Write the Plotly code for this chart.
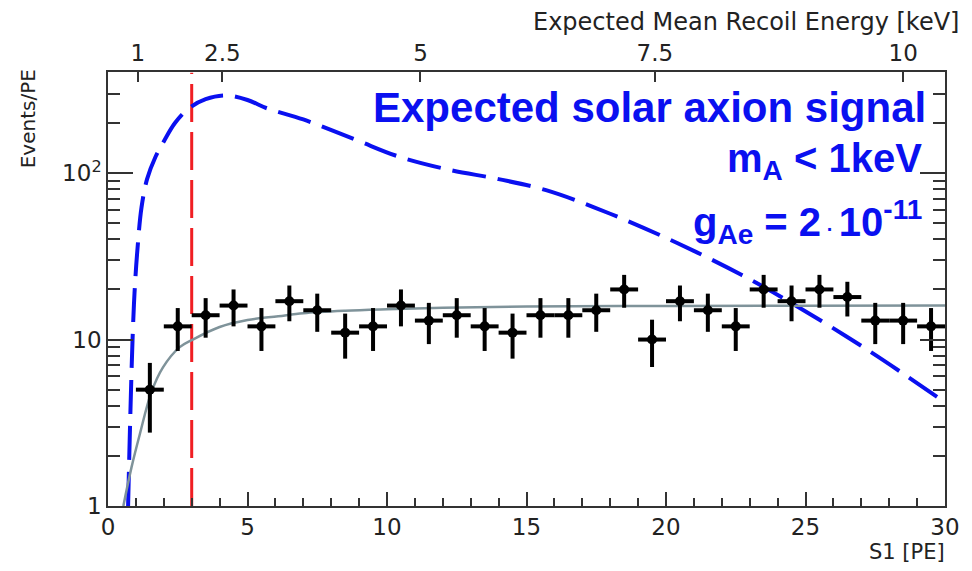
import plotly.graph_objects as go
import math

# ---------------- data ----------------
bin_centers = [1.5, 2.5, 3.5, 4.5, 5.5, 6.5, 7.5, 8.5, 9.5, 10.5, 11.5, 12.5, 13.5, 14.5,
               15.5, 16.5, 17.5, 18.5, 19.5, 20.5, 21.5, 22.5, 23.5, 24.5, 25.5, 26.5,
               27.5, 28.5, 29.5]
counts = [5, 12, 14, 16, 12, 17, 15, 11, 12, 16, 13, 14, 12, 11,
          14, 14, 15, 20, 10, 17, 15, 12, 20, 17, 20, 18, 13, 13, 12]
count_err = [2.24, 3.46, 3.74, 4.0, 3.46, 4.12, 3.87, 3.32, 3.46, 4.0, 3.61, 3.74, 3.46, 3.32,
             3.74, 3.74, 3.87, 4.47, 3.16, 4.12, 3.87, 3.46, 4.47, 4.12, 4.47, 4.24, 3.61, 3.61, 3.46]
bin_half_width = [0.5] * len(bin_centers)

# background fit curve (grey)
bkg_s1 = [0.55, 0.84, 1.14, 1.55, 1.97, 2.57, 3.04, 4.0, 5.0, 6.1, 7.0, 8.5, 10.0,
          12.0, 15.0, 20.0, 25.0, 30.0]
bkg_y = [1.0, 1.7, 2.7, 4.8, 6.8, 9.0, 10.0, 11.9, 13.1, 13.8, 14.4, 14.9, 15.2,
         15.5, 15.8, 15.9, 15.95, 16.0]

# expected solar axion signal (blue dashed)
sig_s1 = [0.72, 0.8, 0.88, 0.95, 1.05, 1.2, 1.4, 1.7, 2.0, 2.4, 2.9, 3.5, 4.2, 5.0,
          5.7, 7.0, 8.9, 10.4, 12.2, 14.0, 15.7, 18.0, 20.4, 22.7, 24.6, 27.3, 30.0]
sig_y = [1.0, 3.5, 10, 19, 34, 62, 92, 125, 155, 200, 245, 278, 293, 275,
         245, 210, 158, 126, 105, 92, 79, 57, 38, 24.5, 16.2, 8.5, 4.2]

# analysis threshold (red dashed)
threshold_s1 = 3.0

# top axis: expected mean recoil energy, tick labels and S1 positions
energy_labels = ["1", "2.5", "5", "7.5", "10"]
energy_s1_pos = [1.07, 4.1, 11.2, 19.6, 28.5]

# axis ranges / ticks
x_range = [0, 30]
y_min, y_max = 1, 405
y_tickvals = [1, 10, 100]
y_ticktext = ["1", "10", "10<sup>2</sup>"]
y_minor = [m * d for d in (1, 10, 100) for m in range(2, 10) if m * d < y_max]

# ---------------- figure ----------------
BLUE = "#0a10f0"
RED = "#f01e23"
GREY = "#7f939a"
TXT = "#222222"
AX = "#333333"
tickfont = dict(family="DejaVu Sans", size=23, color=TXT)

fig = go.Figure()

fig.add_trace(go.Scatter(
    x=[threshold_s1, threshold_s1], y=[y_min, y_max * 0.99], mode="lines",
    line=dict(color=RED, width=3, dash="38px,10px"), hoverinfo="skip"))

fig.add_trace(go.Scatter(
    x=sig_s1, y=sig_y, mode="lines", line=dict(color=BLUE, width=4, dash="34px,12px", shape="spline"),
    hoverinfo="skip"))

fig.add_trace(go.Scatter(
    x=bkg_s1, y=bkg_y, mode="lines", line=dict(color=GREY, width=2.5, shape="spline"),
    hoverinfo="skip"))

fig.add_trace(go.Scatter(
    x=bin_centers, y=counts, mode="markers",
    marker=dict(color="black", size=10, symbol="circle"),
    error_y=dict(type="data", array=count_err, color="black", thickness=4, width=0),
    error_x=dict(type="data", array=bin_half_width, color="black", thickness=4, width=0)))

# invisible trace to carry the top axis
fig.add_trace(go.Scatter(x=x_range, y=[y_min, y_min], mode="markers",
                         marker=dict(opacity=0), xaxis="x2", hoverinfo="skip"))

fig.update_layout(
    width=972, height=571,
    margin=dict(l=108, r=24, t=72, b=65),
    plot_bgcolor="white", paper_bgcolor="white",
    showlegend=False,
    xaxis=dict(range=x_range, showline=True, linecolor=AX, linewidth=1.5, mirror=False,
               showgrid=False, zeroline=False, ticks="inside", ticklen=14, tickwidth=1.5,
               tickcolor=AX, tickvals=[0, 5, 10, 15, 20, 25, 30], tickfont=tickfont,
               minor=dict(ticks="inside", ticklen=8, tickwidth=1.5, tickcolor=AX, dtick=1, showgrid=False)),
    xaxis2=dict(range=x_range, overlaying="x", side="top", showline=True, linecolor=AX,
                linewidth=1.5, showgrid=False, zeroline=False, ticks="inside", ticklen=10,
                tickwidth=1.5, tickcolor=AX, tickmode="array", tickvals=energy_s1_pos,
                ticktext=energy_labels, tickfont=tickfont),
    yaxis=dict(type="log", range=[math.log10(y_min), math.log10(y_max)], showline=True,
               linecolor=AX, linewidth=1.5, mirror="ticks", showgrid=False, zeroline=False,
               ticks="inside", ticklen=25, tickwidth=1.5, tickcolor=AX, tickmode="array",
               tickvals=y_tickvals, ticktext=y_ticktext, tickfont=tickfont,
               minor=dict(ticks="inside", ticklen=12, tickwidth=1.5, tickcolor=AX,
                          tickmode="array", tickvals=y_minor, showgrid=False)),
)

def px(xp):
    return (xp - 108) / 840.0

def py(yp):
    return (506 - yp) / 434.0

annos = [
    dict(text="<b>Expected solar axion signal</b>", x=px(931), y=py(108), size=42),
    dict(text="<b>m<sub>A</sub> &lt; 1keV</b>", x=px(927), y=py(161), size=40),
    dict(text="<b>g<sub>Ae</sub> = 2<span style='font-size:20px'> · </span>10<sup>-11</sup></b>",
         x=px(927), y=py(222), size=40),
]
for a in annos:
    fig.add_annotation(xref="paper", yref="paper", xanchor="right", yanchor="middle",
                       showarrow=False, text=a["text"], x=a["x"], y=a["y"],
                       font=dict(family="Liberation Sans", size=a["size"], color=BLUE))

black_font = dict(family="DejaVu Sans", size=20, color=TXT)
fig.add_annotation(text="Events/PE", xref="paper", yref="paper", x=px(28), y=py(119),
                   xanchor="center", yanchor="middle", textangle=-90, showarrow=False, font=black_font)
fig.add_annotation(text="S1 [PE]", xref="paper", yref="paper", x=px(950), y=py(552),
                   xanchor="right", yanchor="middle", showarrow=False, font=dict(family="DejaVu Sans", size=21, color=TXT))
fig.add_annotation(text="Expected Mean Recoil Energy [keV]", xref="paper", yref="paper",
                   x=px(964), y=py(22), xanchor="right", yanchor="middle", showarrow=False,
                   font=dict(family="DejaVu Sans", size=24, color=TXT))

fig.write_html("out.html")
